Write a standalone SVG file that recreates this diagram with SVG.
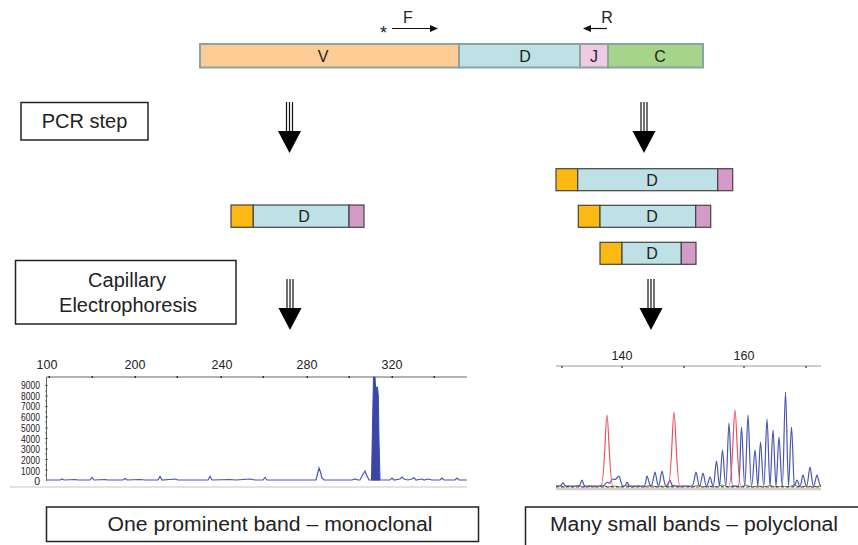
<svg xmlns="http://www.w3.org/2000/svg" xmlns:xlink="http://www.w3.org/1999/xlink" width="858" height="545" viewBox="0 0 858 545">
<style>
text{font-family:"Liberation Sans",Arial,sans-serif;fill:#222}
.seg{stroke:#8aa3a3;stroke-width:2}
.prod{stroke:#444;stroke-width:1.2}
.box{fill:#fff;stroke:#222;stroke-width:1.5}
.lbl{font-size:16px;text-anchor:middle}
.tick{font-size:12.5px;text-anchor:middle}
.ylab{font-size:10.5px;text-anchor:end}
.blue{fill:none;stroke:#4a55b2;stroke-width:1.2}
.red{fill:none;stroke:#f0505e;stroke-width:1.2}
</style>
<defs>
<marker id="ah" viewBox="0 0 8 8" refX="7" refY="4" markerWidth="8" markerHeight="8" markerUnits="userSpaceOnUse" orient="auto">
<path d="M0,0.5 L8,4 L0,7.5 Z" fill="#111"/>
</marker>
<g id="bigarrow">
<line x1="-3" y1="0" x2="-3" y2="30" stroke="#111" stroke-width="1.2"/>
<line x1="0" y1="0" x2="0" y2="30" stroke="#111" stroke-width="1.2"/>
<line x1="3" y1="0" x2="3" y2="30" stroke="#111" stroke-width="1.2"/>
<path d="M-11.5,29 L11.5,29 L0,51 Z" fill="#000"/>
</g>
</defs>

<!-- Top gene bar -->
<g id="gene">
<rect x="200" y="44" width="259" height="23.5" fill="#fdcb94" class="seg"/>
<rect x="459" y="44" width="121" height="23.5" fill="#bde1e4" class="seg"/>
<rect x="580" y="44" width="28" height="23.5" fill="#efcae3" class="seg"/>
<rect x="608" y="44" width="95" height="23.5" fill="#a6d48b" class="seg"/>
<text x="323" y="62" class="lbl">V</text>
<text x="525" y="62" class="lbl">D</text>
<text x="594" y="62" class="lbl">J</text>
<text x="660" y="62" class="lbl">C</text>
</g>

<g id="primerF">
<text x="383.5" y="39" font-size="18" text-anchor="middle">*</text>
<line x1="392" y1="28.5" x2="437" y2="28.5" stroke="#111" stroke-width="1.2" marker-end="url(#ah)"/>
<text x="408" y="23" font-size="16" text-anchor="middle">F</text>
</g>
<g id="primerR">
<line x1="607" y1="28.5" x2="584" y2="28.5" stroke="#111" stroke-width="1.2" marker-end="url(#ah)"/>
<text x="607" y="23" font-size="16" text-anchor="middle">R</text>
</g>

<!-- Step boxes -->
<g id="pcr">
<rect x="21" y="102.5" width="127" height="37.5" class="box"/>
<text x="84.5" y="128" font-size="20" text-anchor="middle">PCR step</text>
</g>
<g id="ce">
<rect x="15.5" y="260.5" width="220.5" height="63.5" class="box"/>
<text x="127" y="287" font-size="20" text-anchor="middle">Capillary</text>
<text x="128" y="312" font-size="20" text-anchor="middle">Electrophoresis</text>
</g>

<!-- Connectors -->
<g id="connectors">
<use xlink:href="#bigarrow" transform="translate(289.5,102)"/>
<use xlink:href="#bigarrow" transform="translate(644,102)"/>
<use xlink:href="#bigarrow" transform="translate(290,279)"/>
<use xlink:href="#bigarrow" transform="translate(651,279)"/>
</g>

<!-- PCR products -->
<g id="prodL">
<rect x="231" y="205" width="22.3" height="22.3" fill="#fdb913" class="prod"/>
<rect x="253.3" y="205" width="95.7" height="22.3" fill="#bde1e4" class="prod"/>
<rect x="349" y="205" width="15" height="22.3" fill="#d59bc8" class="prod"/>
<text x="304" y="222" class="lbl">D</text>
</g>
<g id="prodR1">
<rect x="556" y="168.7" width="21.7" height="22" fill="#fdb913" class="prod"/>
<rect x="577.7" y="168.7" width="140" height="22" fill="#bde1e4" class="prod"/>
<rect x="717.7" y="168.7" width="15" height="22" fill="#d59bc8" class="prod"/>
<text x="652" y="185.5" class="lbl">D</text>
</g>
<g id="prodR2">
<rect x="578.3" y="205.3" width="21.7" height="22" fill="#fdb913" class="prod"/>
<rect x="600" y="205.3" width="95.7" height="22" fill="#bde1e4" class="prod"/>
<rect x="695.7" y="205.3" width="15" height="22" fill="#d59bc8" class="prod"/>
<text x="652" y="222" class="lbl">D</text>
</g>
<g id="prodR3">
<rect x="600" y="242.3" width="22" height="22" fill="#fdb913" class="prod"/>
<rect x="622" y="242.3" width="59.3" height="22" fill="#bde1e4" class="prod"/>
<rect x="681.3" y="242.3" width="14.7" height="22" fill="#d59bc8" class="prod"/>
<text x="652" y="259" class="lbl">D</text>
</g>

<!-- Left electropherogram -->
<g id="chartL">
<line x1="10" y1="487" x2="467" y2="487" stroke="#e2e2e2" stroke-width="2"/>
<line x1="46.5" y1="377" x2="467" y2="377" stroke="#666" stroke-width="1"/>
<line x1="46.5" y1="377" x2="46.5" y2="481" stroke="#666" stroke-width="1"/>
<g fill="#333">
<rect x="48.5" y="376" width="1.5" height="2"/><rect x="91.5" y="376" width="1.5" height="2"/><rect x="134.5" y="376" width="1.5" height="2"/><rect x="176.5" y="376" width="1.5" height="2"/><rect x="220.5" y="376" width="1.5" height="2"/><rect x="262.5" y="376" width="1.5" height="2"/><rect x="306.5" y="376" width="1.5" height="2"/><rect x="348.5" y="376" width="1.5" height="2"/><rect x="391.5" y="376" width="1.5" height="2"/><rect x="433.5" y="376" width="1.5" height="2"/>
</g>
<path d="M45,385.5h3M45,396h3M45,406.5h3M45,417h3M45,428h3M45,438.5h3M45,449h3M45,459.5h3M45,470h3M45,391h2M45,401h2M45,412h2M45,422h2M45,433h2M45,443h2M45,454h2M45,465h2M45,475h2" stroke="#555" stroke-width="0.8"/>
<text x="47" y="369" class="tick">100</text>
<text x="135" y="369" class="tick">200</text>
<text x="222" y="369" class="tick">240</text>
<text x="307" y="369" class="tick">280</text>
<text x="392" y="369" class="tick">320</text>
<g class="ylab">
<text x="40" y="389" textLength="19" lengthAdjust="spacingAndGlyphs">9000</text>
<text x="40" y="399.7" textLength="19" lengthAdjust="spacingAndGlyphs">8000</text>
<text x="40" y="410.4" textLength="19" lengthAdjust="spacingAndGlyphs">7000</text>
<text x="40" y="421.1" textLength="19" lengthAdjust="spacingAndGlyphs">6000</text>
<text x="40" y="431.8" textLength="19" lengthAdjust="spacingAndGlyphs">5000</text>
<text x="40" y="442.5" textLength="19" lengthAdjust="spacingAndGlyphs">4000</text>
<text x="40" y="453.2" textLength="19" lengthAdjust="spacingAndGlyphs">3000</text>
<text x="40" y="463.9" textLength="19" lengthAdjust="spacingAndGlyphs">2000</text>
<text x="40" y="474.6" textLength="19" lengthAdjust="spacingAndGlyphs">1000</text>
<text x="40" y="485">0</text>
</g>
<path class="blue" d="M47,480 L60,480 L62,479 L64,480 L75,479.5 L78,480 L90,480 L92,477.5 L94,480 L105,479.5 L108,480 L123,480 L125,478.5 L127,480 L140,479.5 L145,480 L158,480 L160,476.5 L162,480 L175,479 L178,480 L208,480 L210,476.5 L212,480 L230,479.5 L236,480 L250,479 L255,480 L263,480 L265,477.5 L267,480 L300,480 L316,480 L317.5,474 L319,468 L320.5,472 L322,478 L324,480 L352,480 L355,479 L358,480 L360,480 L362,476 L365,471 L367,476 L369,480 L381,480 L390,480 L392,478 L394,480 L400,479 L402,477 L404,479 L408,480 L412,479 L414,477.5 L416,480 L422,479 L424,480 L428,479 L432,480 L440,480 L442,478 L444,480 L455,480 L457,478 L459,480 L467,480"/>
<path d="M371.5,480 L372.5,425 L373.5,377 L375,377 L375.8,392 L376.5,387 L377.5,387 L378.3,396 L379,440 L380,480 Z" fill="#3a47a8" stroke="#3a47a8" stroke-width="1"/>
</g>

<!-- Right electropherogram -->
<g id="chartR">
<line x1="556" y1="366" x2="821" y2="366" stroke="#9a9a9a" stroke-width="1"/>
<path d="M562,366v2M622,366v2M684,366v2M744,366v2M806,366v2" stroke="#333" stroke-width="1.2"/>
<text x="622" y="360" class="tick">140</text>
<text x="744" y="360" class="tick">160</text>
<line x1="556" y1="489" x2="821" y2="489" stroke="#cfcfcf" stroke-width="2.5"/>
<path d="M556,486.5 L560,485.5 L564,487 L568,486 L572,487 L578,485.5 L584,487 L590,486 L596,487 L602,485 L608,487 L614,486 L620,487 L626,485.5 L632,487 L638,486 L644,487 L650,485 L656,487 L662,486 L668,487 L674,485.5 L680,487 L686,486 L692,487 L698,485 L704,487 L710,486 L716,487 L722,485 L728,487 L734,486 L740,487 L746,485 L752,487 L758,486 L764,487 L770,485.5 L776,487 L782,486 L788,487 L794,485 L800,487 L806,486 L812,487 L821,486" fill="none" stroke="#4caf50" stroke-width="1"/>
<path d="M556,487 L821,487" fill="none" stroke="#c0392b" stroke-width="1" stroke-dasharray="3 2"/>
<path d="M556,486.5 L821,486.5" fill="none" stroke="#222" stroke-width="0.8" stroke-dasharray="1.5 4"/>
<path class="blue" d="M556,486 L560,486 C562,486 562,482.5 563,482.5 C564,482.5 564,486 566,486 L579,486 C581,486 581,480 582,480 C583,480 583,486 585,486 L603,486 C605,486 606,482 607,482 C608,482 609,484 610,483 C611,481 612,479 613,479 C614,479 615,480 616,479 C617,478 618,476 619,476 C620,476 621,486 623,486 L625,486 C626,486 626,482 627,482 C628,482 628,486 630,486 L644,486 C646,486 646,476 647,476 C648,476 649,486 651,486 C653,486 654,472 655,472 C656,472 657,486 658.5,486 C660,486 661,471 662,471 C663,471 664,486 666,486 C668,486 669,480 670,480 C671,480 671,486 673,486 L692,486 
M692,486 C694,486 695,472 696,472 C697,472 698,486 699.5,486 C701,486 702,473 703,473 C704,473 705,486 706.5,486 C708,486 709,477 710,477 C711,477 712,486 713.3,486 C714.5,486 715.5,461 716.5,461 C717.5,461 718.5,486 719.5,486 C720.5,486 721.5,450 722.5,450 C723.5,450 724.5,486 725.8,486 C727,486 728,423 729,423 C730,423 731,486 732.5,486 L738.5,486 C740,486 740.5,427 741.5,427 C742.5,427 743.5,486 744.8,486 C746,486 747,415 748,415 C749,415 750,486 751.5,486 C753,486 754,450 755,450 C756,450 757,486 757.8,486 C758.8,486 759.5,442 760.5,442 C761.5,442 762.5,486 763.8,486 C765,486 766,419 767,419 C768,419 769,486 770,486 C771,486 772,430 773,430 C774,430 775,486 776,486 C777,486 778,437 779,437 C780,437 781,486 782.3,486 C783.5,486 784.5,392 785.5,392 C786.5,392 787.5,486 788.5,486 C789.5,486 790.5,427 791.5,427 C792.5,427 793.5,486 794.3,486 C795.5,486 796,480 797,480 C798,480 798.5,486 800,486 C801.5,486 802,475 803,475 C804,475 805,486 806.5,486 C808,486 809,467 810,467 C811,467 812,486 813.5,486 C815,486 816,475 817,475 C818,475 819,486 821,486"/>
<path class="red" d="M601,486 C604.5,486 605.5,415 607,415 C608.5,415 609.5,486 613,486 M668,486 C671.5,486 672.5,412 674,412 C675.5,412 676.5,486 680,486 M729,486 C732.5,486 733.5,410 735,410 C736.5,410 737.5,486 741,486"/>
</g>

<!-- Result boxes -->
<g id="resultL">
<rect x="46.5" y="507" width="432" height="34.5" class="box" stroke-width="1"/>
<text x="270" y="531" font-size="20" text-anchor="middle" textLength="325" lengthAdjust="spacingAndGlyphs">One prominent band – monoclonal</text>
</g>
<g id="resultR">
<rect x="525.5" y="507" width="340" height="45" class="box" stroke-width="1"/>
<text x="694" y="531" font-size="20" text-anchor="middle" textLength="288" lengthAdjust="spacingAndGlyphs">Many small bands – polyclonal</text>
</g>
</svg>
